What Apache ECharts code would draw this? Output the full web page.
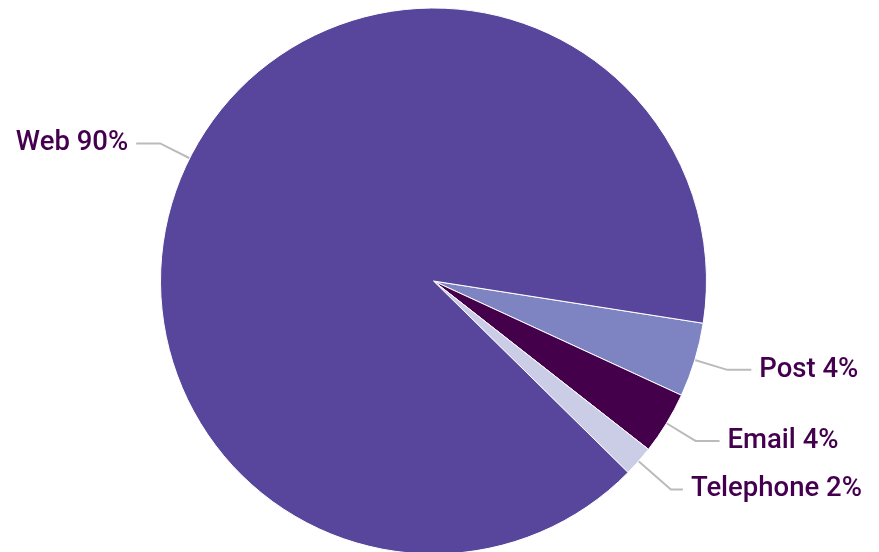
<!DOCTYPE html>
<html><head><meta charset="utf-8">
<script src="https://cdn.jsdelivr.net/npm/echarts@6/dist/echarts.min.js"></script>
<style>html,body{margin:0;padding:0;background:#fff}#c{width:879px;height:552px}</style>
</head><body><div id="c"></div>
<script>
const categories = ['Post', 'Email', 'Telephone', 'Web'];
const values = [4.4, 3.7, 1.8, 90.1];
const colors = ['#7e84c2', '#44004b', '#cbcce6', '#58469c'];
const lineLen = [34, 34, 43, 33];
const lineLen2 = [24, 24, 12, 24];
const chart = echarts.init(document.getElementById('c'));
chart.setOption({
  animation: false,
  series: [{
    type: 'pie',
    center: [433.5, 281],
    radius: 273,
    startAngle: -8.9,
    clockwise: true,
    avoidLabelOverlap: true,
    itemStyle: { borderColor: '#fff', borderWidth: 1 },
    label: {
      color: '#44004e',
      fontFamily: 'Roboto',
      fontWeight: 500,
      fontSize: 27.5,
      distanceToLabelLine: 8,
      formatter: p => p.name + ' ' + Math.round(p.percent) + '%'
    },
    labelLine: { lineStyle: { color: '#bbbbbb', width: 2 } },
    data: categories.map((c, i) => ({
      name: c, value: values[i], itemStyle: { color: colors[i] },
      labelLine: { length: lineLen[i], length2: lineLen2[i] }
    }))
  }]
});
</script></body></html>
